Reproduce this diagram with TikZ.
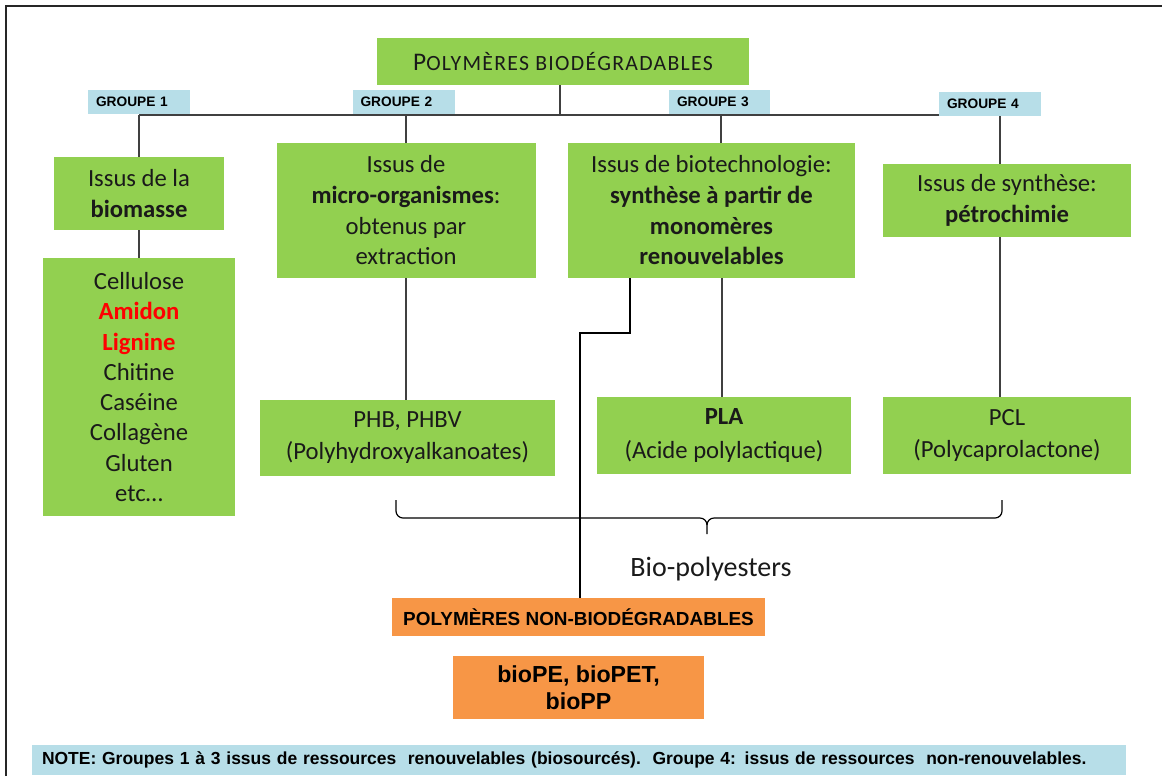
\documentclass[tikz,border=0pt]{standalone}
\usepackage{fontspec}
\setmainfont{Carlito}
\newfontfamily\arialf{Liberation Sans}
\definecolor{vert}{HTML}{92D050}
\definecolor{bleu}{HTML}{B7DEE8}
\definecolor{orange}{HTML}{F79646}
\definecolor{linegray}{HTML}{404040}
\definecolor{txt}{HTML}{1A1A1A}
\tikzset{
  gbox/.style={fill=vert, draw=none, align=center, inner sep=0pt, text=txt,
    font=\fontsize{18.5}{23}\selectfont},
  grp/.style={fill=bleu, draw=none, align=left, inner xsep=6pt, inner ysep=0pt,
    font=\arialf\bfseries\fontsize{10.3}{12}\selectfont, text width=64.5pt, minimum height=18pt},
  obox/.style={fill=orange, draw=none, align=center, inner sep=0pt,
    font=\arialf\bfseries},
  link/.style={draw=linegray, line width=0.8pt},
  blink/.style={draw=black, line width=1.1pt},
}
\begin{document}
\begin{tikzpicture}[x=0.75pt,y=-0.75pt]
\useasboundingbox (0,0) rectangle (1162,776);
% frame
\draw[line width=1.2pt, draw=black!85] (6,776) -- (6,6) -- (1162,6);

% title
\node[gbox, minimum width=279pt, minimum height=35.25pt] (title) at (563,61.5)
  {{\fontsize{19}{19}\selectfont P}{\addfontfeature{LetterSpace=6}\fontsize{16.3}{18}\selectfont OLYMÈRES BIODÉGRADABLES}};

% group labels
\node[grp] (g1) at (139,102) {GROUPE 1};
\node[grp] (g2) at (403.5,102) {GROUPE 2};
\node[grp, text width=63.75pt] (g3) at (719.5,102) {GROUPE 3};
\node[grp] (g4) at (990,104) {GROUPE 4};

% level 1 boxes
\node[gbox, minimum width=127.5pt, minimum height=54.75pt] (b1) at (139,193.5)
  {Issus de la\\\textbf{biomasse}};
\node[gbox, minimum width=194.25pt, minimum height=101.25pt] (b2) at (406,210.5)
  {Issus de\\\textbf{micro-organismes}:\\obtenus par\\extraction};
\node[gbox, minimum width=215.25pt, minimum height=101.25pt] (b3) at (711.5,210.5)
  {Issus de biotechnologie:\\\textbf{synthèse à partir de}\\\textbf{monomères}\\\textbf{renouvelables}};
\node[gbox, minimum width=186pt, minimum height=54.75pt] (b4) at (1007,200.5)
  {Issus de synthèse:\\\textbf{pétrochimie}};

% level 2 boxes
\node[gbox, minimum width=144pt, minimum height=193.5pt, font=\fontsize{18.5}{22.7}\selectfont] (list) at (139,387)
  {Cellulose\\\textcolor{red}{\textbf{Amidon}}\\\textcolor{red}{\textbf{Lignine}}\\Chitine\\Caséine\\Collagène\\Gluten\\etc…};
\node[gbox, minimum width=221.25pt, minimum height=57pt, font=\fontsize{18.5}{24}\selectfont] (phb) at (407.5,438)
  {PHB, PHBV\\(Polyhydroxyalkanoates)};
\node[gbox, minimum width=190.5pt, minimum height=57.75pt, font=\fontsize{18.5}{25}\selectfont] (pla) at (724,435.5)
  {\textbf{PLA}\\(Acide polylactique)};
\node[gbox, minimum width=186pt, minimum height=57.75pt, font=\fontsize{18.5}{24}\selectfont] (pcl) at (1007,435.5)
  {PCL\\(Polycaprolactone)};

% non-biodegradable
\node[obox, minimum width=279.75pt, minimum height=28.5pt, font=\arialf\bfseries\fontsize{14.2}{16}\selectfont] (nb) at (578.5,617)
  {POLYMÈRES NON-BIODÉGRADABLES};
\node[obox, minimum width=188.25pt, minimum height=47.25pt, font=\arialf\bfseries\fontsize{17.4}{20.5}\selectfont] (bio) at (578.5,687.5)
  {bioPE, bioPET,\\bioPP};

% note
\node[fill=bleu, draw=none, align=left, inner xsep=7.5pt, inner ysep=0pt, text width=805.5pt,
  minimum height=22.5pt, font=\arialf\bfseries\fontsize{13.1}{14}\selectfont] (note) at (579,760)
  {NOTE: Groupes 1 à 3 issus de ressources\ \ renouvelables (biosourcés).\ \ Groupe 4: issus de ressources\ \ non-renouvelables.};

% Bio-polyesters label
\node[font=\fontsize{21}{24}\selectfont, text=txt] (biopoly) at (711,569) {Bio-polyesters};

% coordinates
\coordinate (hb) at (560,115);
\coordinate (hl) at (139,115);
\coordinate (hr) at (939,115);
\coordinate (c2) at (406,115);
\coordinate (c3) at (721,115);
\coordinate (c3b) at (722,0);
\coordinate (c4) at (1000,0);
\coordinate (e1) at (630,333);
\coordinate (e2) at (580,333);

% connectors
\draw[link] (title.south -| hb) -- (hb);
\draw[link] (hl) -- (hr);
\draw[link] (hl) -- (b1.north);
\draw[link] (c2) -- (b2.north -| c2);
\draw[link] (c3) -- (b3.north -| c3);
\draw[link] (g4.south -| c4) -- (b4.north -| c4);
\draw[link] (b1.south) -- (list.north);
\draw[link] (b2.south) -- (phb.north -| b2.south);
\draw[link] (b3.south -| c3b) -- (pla.north -| c3b);
\draw[link] (b4.south -| c4) -- (pcl.north -| c4);
\draw[blink] (b3.south -| e1) -- (e1) -- (e2) -- (nb.north -| e2);

% brace
\draw[link, draw=black, line width=0.9pt]
  (396,500) -- (396,511) to[out=-90,in=180] (403,518) -- (700,518) to[out=0,in=90] (707,525) -- (707,534);
\draw[link, draw=black, line width=0.9pt]
  (707,525) to[out=90,in=180] (714,518) -- (995,518) to[out=0,in=-90] (1002,511) -- (1002,500);
\end{tikzpicture}
\end{document}
